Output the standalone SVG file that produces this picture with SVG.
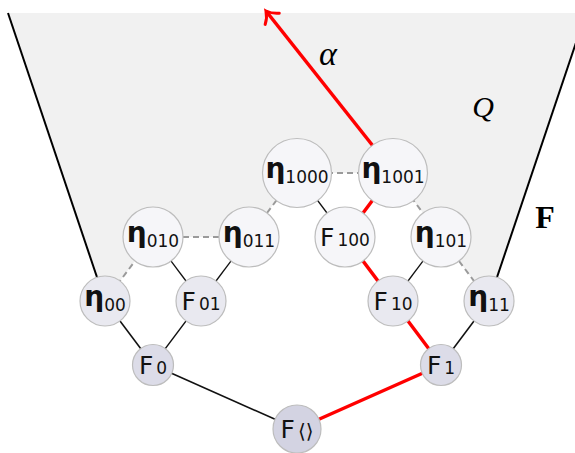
<svg xmlns="http://www.w3.org/2000/svg" width="575" height="453" viewBox="0 0 575 453">
<style>
.n circle{stroke:#bdbdbd;stroke-width:1.2}
.l1{fill:#f6f6f9}.l2{fill:#e9e9f0}.l3{fill:#dcdce8}.l4{fill:#d3d3e2}
text.lb{font-family:"DejaVu Sans",sans-serif;fill:#111;text-anchor:middle}
.g{font-size:28px;font-weight:bold}
.f{font-size:25px}
.s{font-size:17px}
.e{stroke:#111;stroke-width:1.3;fill:none}
.d{stroke:#9a9a9a;stroke-width:2;stroke-dasharray:6,4;fill:none}
.r{stroke:#ff0000;stroke-width:3.5;fill:none}
.o{stroke:#000;stroke-width:2;fill:none}
</style>
<defs>
<marker id="ah" markerUnits="userSpaceOnUse" viewBox="-14 -12 18 24" markerWidth="18" markerHeight="24" refX="0" refY="0" orient="auto">
<path d="M-10,-9 C-6,-3 -2,-1 0,0 C-2,1 -6,3 -10,9" fill="none" stroke="#ff0000" stroke-width="3" stroke-linecap="round"/>
</marker>
</defs>
<polygon points="8,13 575,13 575,47 489,301 441,237 393,173 297,173 249,237 153,237 105,301" fill="#f1f1f1"/>
<g id="connectors">
<line class="o" x1="8" y1="13" x2="105" y2="301"/>
<line class="o" x1="586" y1="13" x2="489" y2="301"/>
<line class="e" x1="297" y1="429" x2="153" y2="365" style="stroke-width:1.6"/>
<line class="e" x1="153" y1="365" x2="105" y2="301" style="stroke-width:1.6"/>
<line class="e" x1="153" y1="365" x2="201" y2="301"/>
<line class="e" x1="201" y1="301" x2="153" y2="237"/>
<line class="e" x1="201" y1="301" x2="249" y2="237"/>
<line class="e" x1="441" y1="365" x2="489" y2="301" style="stroke-width:1.6"/>
<line class="e" x1="393" y1="301" x2="441" y2="237"/>
<line class="e" x1="345" y1="237" x2="297" y2="173"/>
<line class="d" x1="105" y1="301" x2="153" y2="237"/>
<line class="d" x1="153" y1="237" x2="249" y2="237"/>
<line class="d" x1="249" y1="237" x2="297" y2="173"/>
<line class="d" x1="297" y1="173" x2="393" y2="173"/>
<line class="d" x1="393" y1="173" x2="441" y2="237"/>
<line class="d" x1="441" y1="237" x2="489" y2="301"/>
<line class="r" x1="297" y1="429" x2="441" y2="365"/>
<line class="r" x1="441" y1="365" x2="393" y2="301"/>
<line class="r" x1="393" y1="301" x2="345" y2="237"/>
<line class="r" x1="345" y1="237" x2="393" y2="173"/>
<line class="r" x1="373" y1="146" x2="266" y2="11" marker-end="url(#ah)"/>
</g>
<g id="n1000" class="n"><circle class="l1" cx="297" cy="173" r="34.5"/><text class="lb" x="297" y="178"><tspan class="g">η</tspan><tspan class="s" dy="5">1000</tspan></text></g>
<g id="n1001" class="n"><circle class="l1" cx="393" cy="173" r="34.5"/><text class="lb" x="393" y="178"><tspan class="g">η</tspan><tspan class="s" dy="5">1001</tspan></text></g>
<g id="n010" class="n"><circle class="l1" cx="153" cy="237" r="30"/><text class="lb" x="153" y="242"><tspan class="g">η</tspan><tspan class="s" dy="5">010</tspan></text></g>
<g id="n011" class="n"><circle class="l1" cx="249" cy="237" r="30"/><text class="lb" x="249" y="242"><tspan class="g">η</tspan><tspan class="s" dy="5">011</tspan></text></g>
<g id="F100" class="n"><circle class="l1" cx="345" cy="237" r="30"/><text class="lb" x="345" y="246"><tspan class="f">F</tspan><tspan class="s" dx="3">100</tspan></text></g>
<g id="n101" class="n"><circle class="l1" cx="441" cy="237" r="30"/><text class="lb" x="441" y="242"><tspan class="g">η</tspan><tspan class="s" dy="5">101</tspan></text></g>
<g id="n00" class="n"><circle class="l2" cx="105" cy="301" r="25"/><text class="lb" x="105" y="306"><tspan class="g">η</tspan><tspan class="s" dy="5">00</tspan></text></g>
<g id="F01" class="n"><circle class="l2" cx="201" cy="301" r="25"/><text class="lb" x="201" y="310"><tspan class="f">F</tspan><tspan class="s" dx="3">01</tspan></text></g>
<g id="F10" class="n"><circle class="l2" cx="393" cy="301" r="25"/><text class="lb" x="393" y="310"><tspan class="f">F</tspan><tspan class="s" dx="3">10</tspan></text></g>
<g id="n11" class="n"><circle class="l2" cx="489" cy="301" r="25"/><text class="lb" x="489" y="306"><tspan class="g">η</tspan><tspan class="s" dy="5">11</tspan></text></g>
<g id="F0" class="n"><circle class="l3" cx="153" cy="365" r="20.5"/><text class="lb" x="153" y="374"><tspan class="f">F</tspan><tspan class="s" dx="3">0</tspan></text></g>
<g id="F1" class="n"><circle class="l3" cx="441" cy="365" r="20.5"/><text class="lb" x="441" y="374"><tspan class="f">F</tspan><tspan class="s" dx="3">1</tspan></text></g>
<g id="Froot" class="n"><circle class="l4" cx="297" cy="429" r="24"/><text class="lb" x="297" y="438"><tspan class="f">F</tspan><tspan class="s" dx="3" style="font-size:20px">⟨⟩</tspan></text></g>
<text x="328" y="65" font-family="Liberation Serif,serif" font-style="italic" font-size="34" text-anchor="middle">α</text>
<text x="483" y="117" font-family="Liberation Serif,serif" font-style="italic" font-size="30" text-anchor="middle">Q</text>
<text x="545" y="228" font-family="Liberation Serif,serif" font-weight="bold" font-size="32" text-anchor="middle">F</text>
</svg>
